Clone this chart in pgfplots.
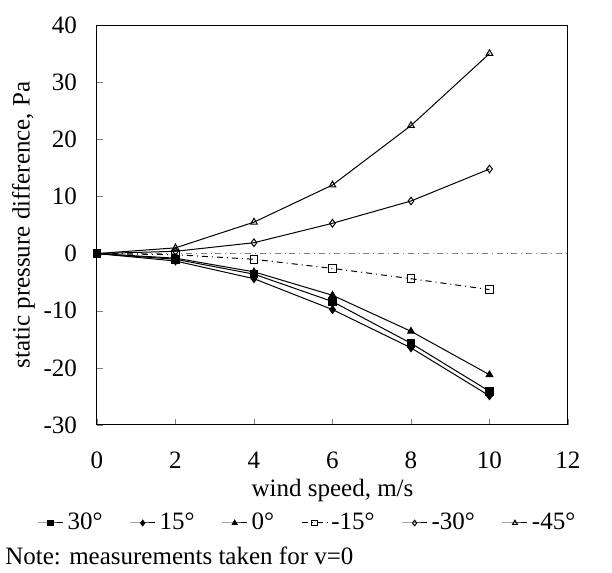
\documentclass[border=0pt]{standalone}
\usepackage{fontspec}
\setmainfont{Liberation Serif}
\usepackage{pgfplots}
\pgfplotsset{compat=1.18}

% wind speed vs static pressure difference, one series per angle
\begin{document}
\begin{tikzpicture}
\begin{axis}[
    scale only axis,
    width=235.5pt, height=200pt,
    xmin=0, xmax=12, ymin=-30, ymax=40,
    xtick={0,2,...,12}, ytick={-30,-20,...,40},
    tick align=inside, major tick length=3pt,
    xtick pos=bottom, ytick pos=left,
    axis line style={line width=0.5pt},
    font=\fontsize{12.5}{15}\selectfont,
    /pgf/number format/assume math mode=true,
    xticklabel style={yshift=-10pt},
    yticklabel style={xshift=-6.5pt},
    xlabel={wind speed, m/s},
    xlabel style={yshift=2pt},
    ylabel={static pressure difference, Pa},
    ylabel style={yshift=-2.5pt},
    every axis plot/.append style={black, line width=0.5pt, mark size=1.9pt},
    legend columns=6,
    legend style={draw=none, fill=none, at={(0.449,-0.245)}, anchor=center,
        font=\fontsize{12.5}{15}\selectfont,
        /tikz/every even column/.append style={column sep=11.5pt}},
    legend image code/.code={%
        \draw[#1, mark repeat=2, mark phase=2, mark size=1.4pt]
        plot coordinates {(0cm,0cm) (0.22cm,0cm) (0.44cm,0cm)};},
    clip=false,
]
\draw[gray, dashdotted, line width=0.4pt] (axis cs:0,0) -- (axis cs:12,0);

\addplot[mark=square*] coordinates {(0,0) (2,-1.0) (4,-3.6) (6,-8.4) (8,-15.7) (10,-24.1)};
\addlegendentry{30°}
\addplot[mark=diamond*] coordinates {(0,0) (2,-1.3) (4,-4.4) (6,-9.8) (8,-16.5) (10,-24.9)};
\addlegendentry{15°}
\addplot[mark=triangle*] coordinates {(0,0) (2,-0.8) (4,-3.2) (6,-7.3) (8,-13.6) (10,-21.2)};
\addlegendentry{0°}
\addplot[mark=square, dashdotted, mark options={solid}] coordinates {(0,0) (2,-0.2) (4,-1.0) (6,-2.6) (8,-4.4) (10,-6.3)};
\addlegendentry{-15°}
\addplot[mark=diamond, mark options={solid}] coordinates {(0,0) (2,0.4) (4,1.9) (6,5.3) (8,9.2) (10,14.8)};
\addlegendentry{-30°}
\addplot[mark=triangle, mark options={solid}] coordinates {(0,0) (2,1.0) (4,5.5) (6,12.0) (8,22.4) (10,35.0)};
\addlegendentry{-45°}
\end{axis}
\node[anchor=north west, font=\fontsize{12.5}{15}\selectfont, inner sep=0pt]
    at (-46pt,-61pt) {Note: measurements taken for v=0};
% page frame with the reference's margins round the plot box
\path (-48.5pt,-74pt) rectangle (257.5pt,212.5pt);
\end{tikzpicture}
\end{document}
